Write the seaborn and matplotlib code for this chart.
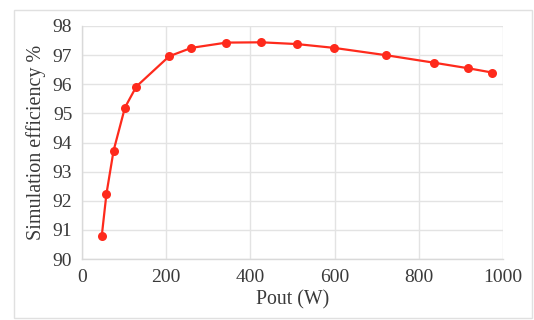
import matplotlib
matplotlib.use("Agg")
import matplotlib.pyplot as plt
import seaborn as sns
import pandas as pd
from matplotlib.patches import Rectangle

pout = [47, 58, 75, 102, 129, 207, 260, 343, 426, 510, 598, 721, 836, 917, 975]
efficiency = [90.8, 92.23, 93.72, 95.2, 95.92, 96.96, 97.25, 97.43, 97.44, 97.38, 97.25, 97.0, 96.74, 96.55, 96.4]
x_ticks = [0, 200, 400, 600, 800, 1000]
y_ticks = [90, 91, 92, 93, 94, 95, 96, 97, 98]

df = pd.DataFrame({"Pout": pout, "Eff": efficiency})

sns.set_theme(style="whitegrid")
plt.rcParams['font.family'] = ['Liberation Serif', 'DejaVu Serif']

fig = plt.figure(figsize=(5.34, 3.2), dpi=100)
ax = fig.add_axes([82/534, 1-259/320, (503-82)/534, (259-26)/320])

sns.lineplot(data=df, x="Pout", y="Eff", ax=ax, color="#fe2a1c", linewidth=1.6,
             marker="o", markersize=6.5, markeredgewidth=0, markerfacecolor="#fe2a1c")

txt = "#3a3a3a"
ax.set_xlim(0, 1000)
ax.set_ylim(90, 98)
ax.set_xticks(x_ticks)
ax.set_yticks(y_ticks)
ax.set_xticklabels([str(v) for v in x_ticks], fontsize=14, color=txt)
ax.set_yticklabels([str(v) for v in y_ticks], fontsize=14, color=txt)
ax.set_xlabel("Pout (W)", fontsize=14.3, color=txt, labelpad=3)
ax.set_ylabel("Simulation efficiency %", fontsize=14.5, color=txt, labelpad=5)

ax.grid(True, color="#e3e3e3", linewidth=1.0)
for s in ["top", "right"]:
    ax.spines[s].set_visible(False)
for s in ["left", "bottom"]:
    ax.spines[s].set_color("#d9d9d9")
    ax.spines[s].set_linewidth(1.0)
ax.tick_params(axis="both", which="both", length=4, width=1.0, color="#d9d9d9", pad=3)

fig.patches.append(Rectangle((14/534, 1-318/320), (532-14)/534, (318-10)/320,
                             transform=fig.transFigure, fill=False,
                             edgecolor="#e0e0e0", linewidth=1.0))

fig.savefig("out.png", dpi=100)
